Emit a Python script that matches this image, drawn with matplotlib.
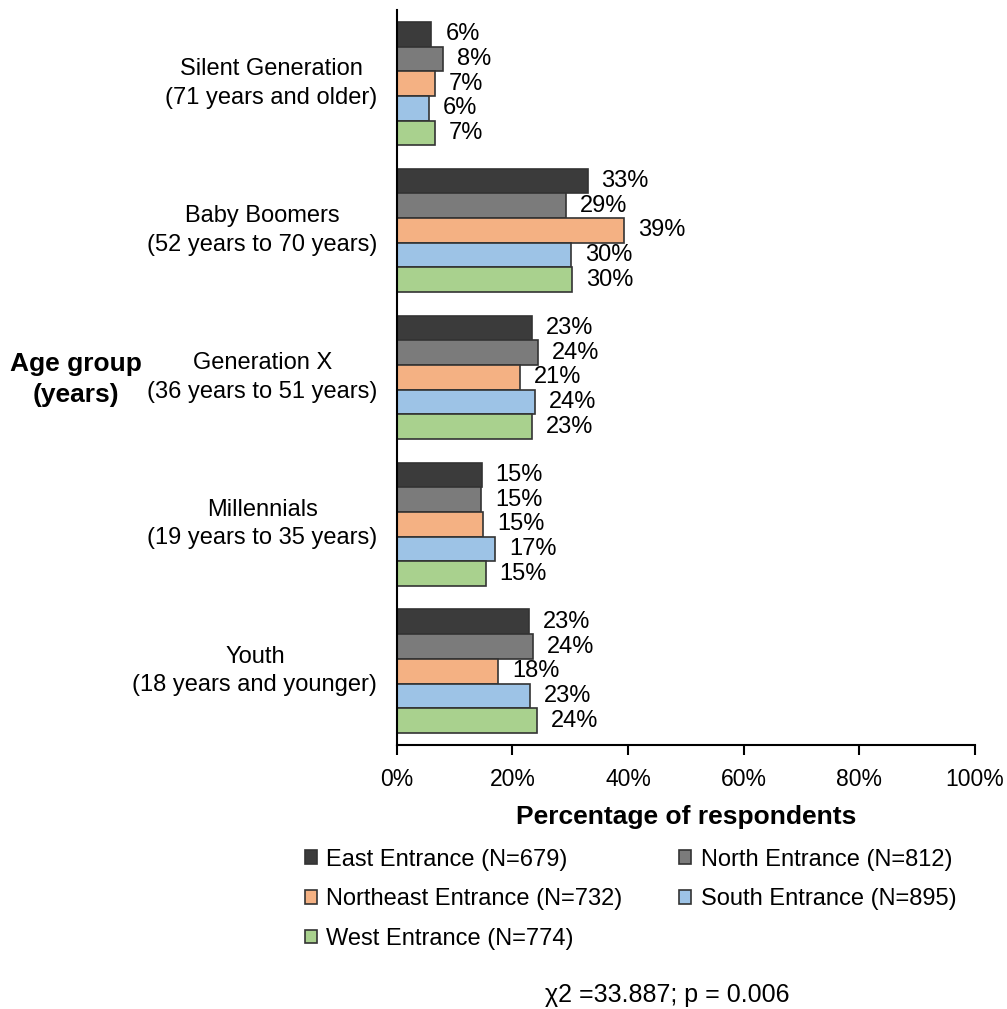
import numpy as np
import matplotlib.pyplot as plt

plt.rcParams['font.family'] = ['Liberation Sans', 'DejaVu Sans']

GROUPS = ['Silent Generation\n(71 years and older)',
          'Baby Boomers\n(52 years to 70 years)',
          'Generation X\n(36 years to 51 years)',
          'Millennials\n(19 years to 35 years)',
          'Youth\n(18 years and younger)']

SERIES = ['East Entrance (N=679)', 'North Entrance (N=812)',
          'Northeast Entrance (N=732)', 'South Entrance (N=895)',
          'West Entrance (N=774)']

EAST = [6.0, 33.0, 23.4, 14.7, 22.8]
NORTH = [8.0, 29.2, 24.4, 14.6, 23.6]
NORTHEAST = [6.6, 39.4, 21.4, 14.9, 17.6]
SOUTH = [5.5, 30.1, 23.9, 17.0, 23.0]
WEST = [6.6, 30.4, 23.4, 15.4, 24.2]

COLORS = ['#3b3b3b', '#7b7b7b', '#f4b183', '#9dc3e6', '#a9d18e']


def main():
    fig = plt.figure(figsize=(10.07, 10.09), dpi=100)
    ax = fig.add_axes([0.394, 0.262, 0.574, 0.728])

    data = [EAST, NORTH, NORTHEAST, SOUTH, WEST]
    y = np.arange(len(GROUPS))
    h = 0.168
    handles = []
    for i, vals in enumerate(data):
        pos = y + (i - 2) * h
        bars = ax.barh(pos, vals, height=h, color=COLORS[i],
                       edgecolor='#333333', linewidth=1.2, label=SERIES[i])
        handles.append(bars)
        for p, v in zip(pos, vals):
            ax.annotate('{:.0f}%'.format(v), (v, p), xytext=(10, 0),
                        textcoords='offset points', ha='left', va='center',
                        fontsize=17)

    ax.set_ylim(-0.5, len(GROUPS) - 0.5)
    ax.invert_yaxis()
    ax.set_xlim(0, 100)
    ax.set_xticks(np.arange(0, 101, 20))
    ax.set_xticklabels(['{}%'.format(t) for t in range(0, 101, 20)],
                       fontsize=16.5)
    ax.set_yticks(y)
    ax.set_yticklabels(GROUPS, fontsize=17, ha='right', va='center',
                       multialignment='center', linespacing=1.37)
    ax.tick_params(axis='y', length=0, pad=14)
    ax.tick_params(axis='x', direction='out', length=7, width=1.5, pad=10)
    for s in ['top', 'right']:
        ax.spines[s].set_visible(False)
    for s in ['left', 'bottom']:
        ax.spines[s].set_linewidth(1.5)

    ax.set_xlabel('Percentage of respondents', fontsize=19,
                  fontweight='bold', labelpad=10)
    fig.text(0.075, 0.624, 'Age group\n(years)', fontsize=19,
             fontweight='bold', ha='center', va='center', linespacing=1.35)

    order = [0, 2, 4, 1, 3]
    fig.legend([handles[k] for k in order], [SERIES[k] for k in order],
               ncol=2, loc='upper left', bbox_to_anchor=(0.303, 0.159),
               frameon=False, fontsize=17, handlelength=0.5,
               handleheight=0.5, handletextpad=0.4, borderpad=0,
               borderaxespad=0, columnspacing=2.4, labelspacing=0.75)

    fig.text(0.663, 0.014, 'χ2 =33.887; p = 0.006', fontsize=18,
             ha='center', va='center')

    fig.savefig('out.png', dpi=100)


if __name__ == '__main__':
    main()
